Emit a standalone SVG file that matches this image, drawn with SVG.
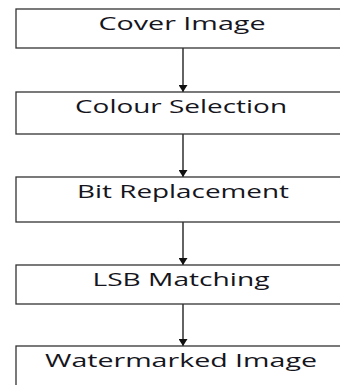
<svg xmlns="http://www.w3.org/2000/svg" width="340" height="385" viewBox="0 0 340 385">
<defs>
<style>
.box{fill:#fff;stroke:#333;stroke-width:1.3}
.lbl{font-family:"Open Sans","Liberation Sans",sans-serif;font-size:18px;font-weight:500;fill:#151520;text-anchor:middle}
.con{stroke:#222;stroke-width:1.4;fill:none}
</style>
<marker id="ah" viewBox="0 0 7 9" refX="7" refY="4.5" markerWidth="7" markerHeight="9" markerUnits="userSpaceOnUse" orient="auto">
<path d="M0,0 L7,4.5 L0,9 Z" fill="#111"/>
</marker>
</defs>
<rect width="340" height="385" fill="#fff"/>
<g id="connectors">
<line class="con" x1="183" y1="48" x2="183" y2="92" marker-end="url(#ah)"/>
<line class="con" x1="183" y1="134" x2="183" y2="177" marker-end="url(#ah)"/>
<line class="con" x1="183" y1="222" x2="183" y2="265" marker-end="url(#ah)"/>
<line class="con" x1="183" y1="304" x2="183" y2="346" marker-end="url(#ah)"/>
</g>
<g id="cover-image">
<rect class="box" x="16" y="9" width="340" height="39"/>
<text class="lbl" x="182" y="30" textLength="167" lengthAdjust="spacingAndGlyphs">Cover Image</text>
</g>
<g id="colour-selection">
<rect class="box" x="16" y="92" width="340" height="42"/>
<text class="lbl" x="181" y="113" textLength="212" lengthAdjust="spacingAndGlyphs">Colour Selection</text>
</g>
<g id="bit-replacement">
<rect class="box" x="16" y="177" width="340" height="45"/>
<text class="lbl" x="183" y="198" textLength="212" lengthAdjust="spacingAndGlyphs">Bit Replacement</text>
</g>
<g id="lsb-matching">
<rect class="box" x="16" y="265" width="340" height="39"/>
<text class="lbl" x="181" y="286" textLength="177" lengthAdjust="spacingAndGlyphs">LSB Matching</text>
</g>
<g id="watermarked-image">
<rect class="box" x="16" y="346" width="340" height="50"/>
<text class="lbl" x="181" y="367" textLength="272" lengthAdjust="spacingAndGlyphs">Watermarked Image</text>
</g>
</svg>
